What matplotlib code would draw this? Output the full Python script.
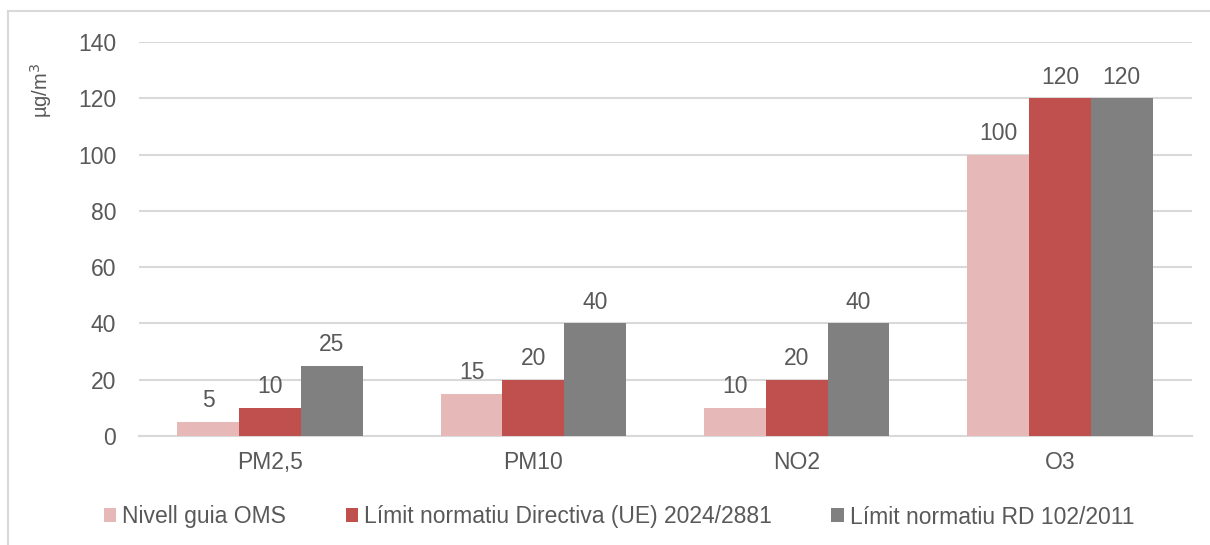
import numpy as np
import matplotlib
matplotlib.use('Agg')
import matplotlib.pyplot as plt
from matplotlib.lines import Line2D

plt.rcParams['font.family'] = ['Liberation Sans', 'DejaVu Sans']

categories = ['PM2,5', 'PM10', 'NO2', 'O3']
series_names = ['Nivell guia OMS',
                'Límit normatiu Directiva (UE) 2024/2881',
                'Límit normatiu RD 102/2011']
oms = [5, 15, 10, 100]
directiva = [10, 20, 20, 120]
rd = [25, 40, 40, 120]
colors = ['#E6B9B8', '#C0504D', '#808080']

txt = '#595959'
grid = '#D9D9D9'
fs = 16.5

fig = plt.figure(figsize=(12.1, 5.45), dpi=100)
ax = fig.add_axes([138.5 / 1210, 1 - 436 / 545, 1053 / 1210, 394 / 545])

x = np.arange(len(categories))
w = 0.235
for i, (vals, name, c) in enumerate(zip([oms, directiva, rd], series_names, colors)):
    bars = ax.bar(x + (i - 1) * w, vals, w, color=c, label=name, zorder=3)
    for b, v in zip(bars, vals):
        ax.annotate(str(v), (b.get_x() + b.get_width() / 2, v),
                    xytext=(0, 7), textcoords='offset points',
                    ha='center', va='bottom', fontsize=fs, color=txt)

ax.set_xlim(-0.5, len(categories) - 0.5)
ax.set_ylim(0, 140)
ax.set_yticks(range(0, 141, 20))
ax.set_xticks(x)
ax.set_xticklabels(categories)
ax.tick_params(axis='both', length=0, labelsize=fs, labelcolor=txt)
ax.tick_params(axis='x', pad=11)
ax.tick_params(axis='y', pad=16)
ax.grid(axis='y', color=grid, linewidth=1.5, zorder=0)
for s in ['top', 'right', 'left']:
    ax.spines[s].set_visible(False)
ax.spines['bottom'].set_color(grid)
ax.spines['bottom'].set_linewidth(1.5)

ax.set_ylabel('µg/m$^3$', fontsize=14.5, color=txt)
ax.yaxis.set_label_coords(-0.08, 0.878)

leg = fig.legend(loc='center', bbox_to_anchor=(619 / 1210, 1 - 517 / 545),
                 ncol=3, frameon=False, fontsize=fs, labelcolor=txt,
                 handlelength=0.55, handleheight=0.55, handletextpad=0.25,
                 columnspacing=2.6)

# figure border (left and top only)
fig.add_artist(Line2D([8 / 1210, 8 / 1210], [0, 1 - 11 / 545],
                      transform=fig.transFigure, color=grid, linewidth=1.5))
fig.add_artist(Line2D([8 / 1210, 1], [1 - 11 / 545, 1 - 11 / 545],
                      transform=fig.transFigure, color=grid, linewidth=1.5))

fig.savefig('out.png', dpi=100, facecolor='white')
